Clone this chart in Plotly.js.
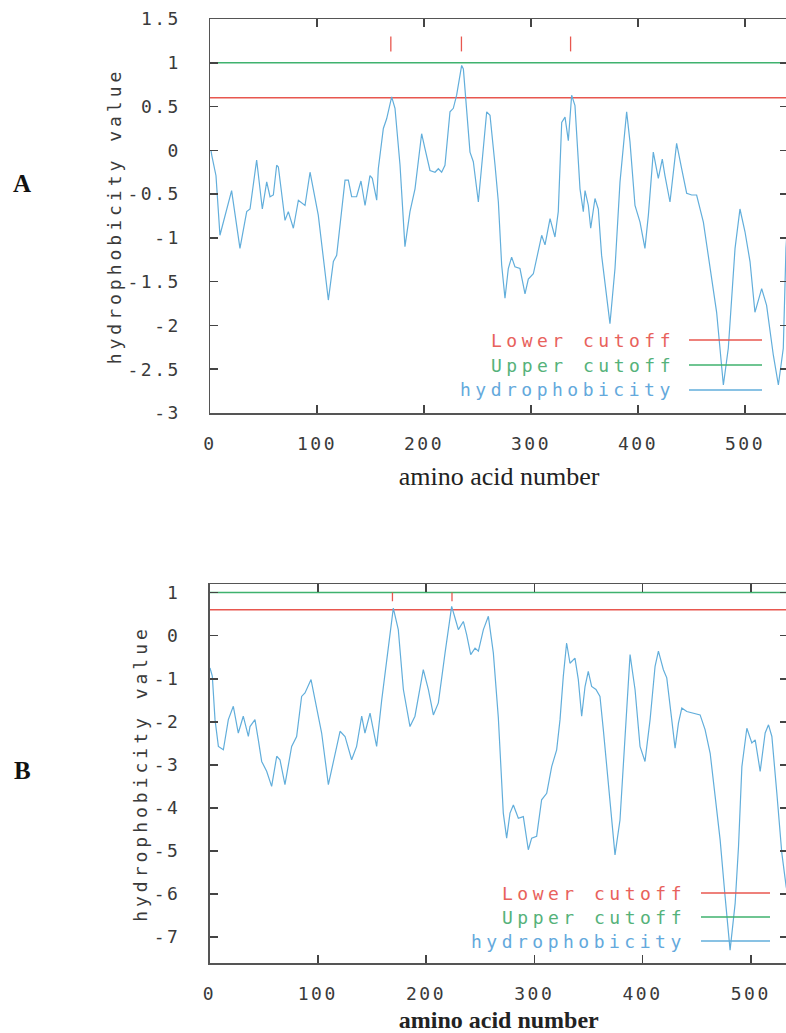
<!DOCTYPE html>
<html>
<head>
<meta charset="utf-8">
<script src="https://cdn.plot.ly/plotly-3.0.1.min.js"></script>
<style>
  html, body { margin: 0; padding: 0; overflow: hidden; background: #fff; }
  .xtick text, .x2tick text, .ytick text, .y2tick text { letter-spacing: 2.5px; }
  .ytitle, .y2title { letter-spacing: 4px; }
  .annotation-text { letter-spacing: 4.5px; }
</style>
</head>
<body>
<div id="chart" style="width:790px;height:1033px;"></div>
<script>
// ---------- Panel A data ----------
const aaA = [0.9, 1.7, 5.6, 9.3, 20.2, 28.0, 34.3, 37.4, 43.6, 48.9, 53.0, 56.1, 59.2, 62.3, 63.9, 70.1, 73.2, 77.9, 82.6, 88.8,
  93.5, 101.2, 110.6, 115.3, 118.4, 126.2, 129.3, 132.4, 137.0, 141.1, 144.9, 149.5, 151.7, 155.8, 157.3, 162.0, 165.1, 169.8, 172.9, 177.6,
  182.2, 186.9, 191.6, 197.8, 200.9, 205.6, 210.3, 213.4, 216.5, 219.6, 224.3, 227.4, 230.5, 235.2, 236.8, 239.9, 243.0, 246.1, 250.8, 258.6,
  261.7, 266.4, 269.5, 272.6, 275.7, 278.8, 281.9, 285.0, 289.7, 294.4, 297.5, 302.2, 306.9, 310.0, 313.1, 317.8, 322.4, 325.5, 328.7, 331.8,
  334.9, 338.0, 341.1, 345.8, 348.9, 350.5, 353.6, 355.8, 359.8, 362.9, 366.0, 373.8, 378.5, 383.2, 389.4, 392.5, 397.2, 401.9, 406.5, 409.7,
  414.3, 419.0, 422.7, 425.2, 429.9, 436.1, 440.8, 445.5, 450.2, 454.8, 461.1, 467.3, 473.5, 479.8, 484.4, 490.7, 495.3, 500.0, 504.7, 509.3,
  515.6, 520.2, 526.5, 531.2, 535.8, 538.3, 541.0];
const hydA = [0.0, -0.06, -0.29, -0.97, -0.46, -1.12, -0.70, -0.67, -0.11, -0.67, -0.36, -0.53, -0.51, -0.17, -0.19, -0.80, -0.70, -0.89, -0.57, -0.63,
  -0.25, -0.74, -1.71, -1.27, -1.20, -0.34, -0.34, -0.53, -0.53, -0.35, -0.63, -0.29, -0.32, -0.57, -0.21, 0.25, 0.36, 0.61, 0.48, -0.17,
  -1.10, -0.70, -0.44, 0.19, 0.02, -0.23, -0.25, -0.21, -0.25, -0.17, 0.44, 0.48, 0.63, 0.97, 0.93, 0.40, -0.02, -0.13, -0.59, 0.44,
  0.40, -0.17, -0.59, -1.31, -1.69, -1.35, -1.22, -1.33, -1.35, -1.64, -1.47, -1.41, -1.12, -0.97, -1.08, -0.78, -0.99, -0.70, 0.32, 0.38,
  0.11, 0.63, 0.51, -0.44, -0.70, -0.46, -0.63, -0.89, -0.55, -0.67, -1.20, -1.98, -1.35, -0.36, 0.44, 0.10, -0.63, -0.82, -1.12, -0.74,
  -0.02, -0.32, -0.10, -0.29, -0.59, 0.08, -0.21, -0.49, -0.51, -0.51, -0.82, -1.31, -1.85, -2.68, -2.26, -1.12, -0.67, -0.93, -1.27, -1.85,
  -1.58, -1.77, -2.34, -2.68, -2.26, -1.12, -0.60];
const lowerCutoffA = 0.6;
const upperCutoffA = 1.0;
const peaksA = [169, 235, 337];
const peakMarkA = [1.13, 1.30];

// ---------- Panel B data ----------
const aaB = [0.46, 2.6, 5.1, 8.2, 12.8, 17.4, 22.0, 26.6, 31.2, 35.9, 37.4, 42.0, 45.1, 48.2, 52.8, 57.4, 62.1, 65.1, 69.7, 75.9,
  80.5, 85.1, 88.2, 93.8, 97.5, 103.6, 109.8, 115.9, 120.6, 125.2, 131.3, 135.9, 140.6, 143.6, 148.3, 151.3, 154.4, 159.1, 163.7, 169.8,
  174.4, 179.1, 185.2, 189.8, 197.5, 202.2, 206.8, 211.4, 217.6, 223.7, 226.8, 229.9, 234.5, 237.6, 241.3, 245.3, 248.4, 253.0, 257.6, 262.2,
  266.8, 271.4, 274.5, 277.6, 280.7, 285.3, 289.9, 294.5, 297.6, 302.2, 306.8, 311.5, 316.1, 320.7, 323.8, 326.8, 329.9, 333.0, 337.6, 340.7,
  343.8, 346.9, 349.9, 353.0, 357.0, 360.7, 363.8, 369.9, 374.6, 379.2, 383.8, 388.5, 393.1, 397.7, 402.3, 407.0, 411.6, 414.7, 419.3, 422.4,
  427.0, 430.1, 433.2, 436.3, 440.9, 447.1, 453.2, 457.8, 462.5, 467.1, 471.7, 476.3, 480.9, 485.6, 488.7, 491.8, 496.4, 501.0, 504.1, 508.7,
  513.3, 516.4, 519.5, 524.1, 528.7, 532.7, 536.0];
const hydB = [-0.75, -0.94, -1.95, -2.57, -2.65, -1.95, -1.64, -2.26, -1.87, -2.34, -2.11, -1.95, -2.42, -2.92, -3.15, -3.50, -2.80, -2.88, -3.46, -2.57,
  -2.34, -1.41, -1.33, -1.02, -1.49, -2.26, -3.46, -2.73, -2.22, -2.34, -2.88, -2.57, -1.87, -2.26, -1.80, -2.18, -2.57, -1.49, -0.56, 0.64,
  0.14, -1.25, -2.11, -1.87, -0.79, -1.25, -1.84, -1.56, -0.40, 0.68, 0.41, 0.14, 0.33, 0.02, -0.44, -0.29, -0.36, 0.14, 0.45, -0.40,
  -1.90, -4.12, -4.70, -4.12, -3.93, -4.24, -4.20, -4.97, -4.70, -4.66, -3.81, -3.66, -3.04, -2.65, -1.95, -0.95, -0.17, -0.64, -0.52, -1.02,
  -1.87, -1.18, -0.83, -1.18, -1.25, -1.41, -2.18, -3.73, -5.09, -4.28, -2.34, -0.44, -1.25, -2.57, -2.92, -1.95, -0.71, -0.36, -0.79, -0.98,
  -1.95, -2.61, -2.03, -1.68, -1.76, -1.80, -1.84, -2.18, -2.73, -3.73, -4.74, -6.06, -7.30, -6.21, -4.89, -3.04, -2.15, -2.49, -2.42, -3.15,
  -2.26, -2.07, -2.34, -3.66, -5.05, -5.83, -6.2];
const lowerCutoffB = 0.6;
const upperCutoffB = 1.0;
const peaksB = [169, 224];
const peakMarkB = [0.80, 1.0];

// ---------- Axis ticks ----------
const xTickVals = [0, 100, 200, 300, 400, 500];
const xTickText = ['0', '100', '200', '300', '400', '500'];
const yTickValsA = [1.5, 1, 0.5, 0, -0.5, -1, -1.5, -2, -2.5, -3];
const yTickTextA = ['1.5', '1', '0.5', '0', '-0.5', '-1', '-1.5', '-2', '-2.5', '-3'];
const yTickValsB = [1, 0, -1, -2, -3, -4, -5, -6, -7];
const yTickTextB = ['1', '0', '-1', '-2', '-3', '-4', '-5', '-6', '-7'];
const seqLen = 560;

const legendLabels = ['Lower cutoff', 'Upper cutoff', 'hydrophobicity'];

// ---------- styling ----------
const RED = '#e8574f', GREEN = '#3fb26e', BLUE = '#62aedb';
const RED_T = '#e8625c', GREEN_T = '#55b27a', BLUE_T = '#64a9dc';
const W = 790, H = 1033;
const px = v => v / W;
const py = v => 1 - v / H;

function peakTrace(peaks, mark, xa, ya) {
  const x = [], y = [];
  peaks.forEach(p => { x.push(p, p, null); y.push(mark[0], mark[1], null); });
  return {x, y, xaxis: xa, yaxis: ya, mode: 'lines', line: {color: RED, width: 1.3}, hoverinfo: 'skip'};
}
function hline(val, color, xa, ya) {
  return {x: [0, seqLen], y: [val, val], xaxis: xa, yaxis: ya, mode: 'lines', line: {color, width: 1.5}, hoverinfo: 'skip'};
}

const data = [
  hline(lowerCutoffA, RED, 'x', 'y'),
  hline(upperCutoffA, GREEN, 'x', 'y'),
  {x: aaA, y: hydA, xaxis: 'x', yaxis: 'y', mode: 'lines', line: {color: BLUE, width: 1.2}, name: 'hydrophobicity'},
  peakTrace(peaksA, peakMarkA, 'x', 'y'),
  hline(lowerCutoffB, RED, 'x2', 'y2'),
  hline(upperCutoffB, GREEN, 'x2', 'y2'),
  {x: aaB, y: hydB, xaxis: 'x2', yaxis: 'y2', mode: 'lines', line: {color: BLUE, width: 1.2}, name: 'hydrophobicity'},
  peakTrace(peaksB, peakMarkB, 'x2', 'y2')
];

const tickFont = {family: 'DejaVu Sans Mono', size: 18, color: '#3a3a3a'};
function xAxis(domain, range, anchor, bold) {
  return {
    domain, range, anchor, tickmode: 'array', tickvals: xTickVals, ticktext: xTickText,
    ticks: 'inside', ticklen: 8, tickwidth: 1.5, tickcolor: '#444',
    showline: true, linecolor: '#555', linewidth: 1.5, mirror: 'ticks',
    showgrid: false, zeroline: false, tickfont: tickFont, ticklabelstandoff: 14,
    title: {text: 'amino acid number', standoff: bold ? 12 : 13,
      font: {family: 'Liberation Serif', size: bold ? 24 : 26, color: '#222', weight: bold ? 700 : 400}}
  };
}
function yAxis(domain, range, anchor, vals, text) {
  return {
    domain, range, anchor, tickmode: 'array', tickvals: vals, ticktext: text,
    ticks: 'inside', ticklen: 8, tickwidth: 1.5, tickcolor: '#444',
    showline: true, linecolor: '#555', linewidth: 1.5, mirror: 'ticks',
    showgrid: false, zeroline: false, tickfont: tickFont, ticklabelstandoff: 24,
    title: {text: 'hydrophobicity value', standoff: 1,
      font: {family: 'DejaVu Sans Mono', size: 18, color: '#3a3a3a'}}
  };
}

const annotations = [
  {text: 'A', x: px(24), y: py(183), xref: 'paper', yref: 'paper', showarrow: false, xanchor: 'center', yanchor: 'middle',
   font: {family: 'Liberation Serif', size: 25, color: '#111', weight: 700}},
  {text: 'B', x: px(24), y: py(770), xref: 'paper', yref: 'paper', showarrow: false, xanchor: 'center', yanchor: 'middle',
   font: {family: 'Liberation Serif', size: 25, color: '#111', weight: 700}}
];
const shapes = [];
const legendColorsT = [RED_T, GREEN_T, BLUE_T];
const legendColorsL = [RED, GREEN, BLUE];
const legA = {right: 677, x0: 689, x1: 762, rows: [340, 365, 390]};
const legB = {right: 688, x0: 701, x1: 770, rows: [893, 917, 941]};
[legA, legB].forEach(L => {
  legendLabels.forEach((lab, i) => {
    annotations.push({text: lab, x: px(L.right), y: py(L.rows[i]), xref: 'paper', yref: 'paper', showarrow: false,
      xanchor: 'right', yanchor: 'middle', font: {family: 'DejaVu Sans Mono', size: 18, color: legendColorsT[i]}});
    shapes.push({type: 'line', xref: 'paper', yref: 'paper', x0: px(L.x0), x1: px(L.x1), y0: py(L.rows[i]), y1: py(L.rows[i]),
      line: {color: legendColorsL[i], width: 1.5}});
  });
});

const layout = {
  width: W, height: H, margin: {l: 0, r: 0, t: 0, b: 0},
  paper_bgcolor: '#fff', plot_bgcolor: '#fff', showlegend: false,
  xaxis: xAxis([px(210), px(788)], [0, 540.2], 'y', false),
  yaxis: yAxis([py(413), py(19)], [-3, 1.5], 'x', yTickValsA, yTickTextA),
  xaxis2: xAxis([px(209.5), px(788)], [0, 534.4], 'y2', true),
  yaxis2: yAxis([py(963), py(584)], [-7.6, 1.2], 'x2', yTickValsB, yTickTextB),
  annotations, shapes
};

Plotly.newPlot('chart', data, layout, {staticPlot: true, displayModeBar: false});
</script>
</body>
</html>
